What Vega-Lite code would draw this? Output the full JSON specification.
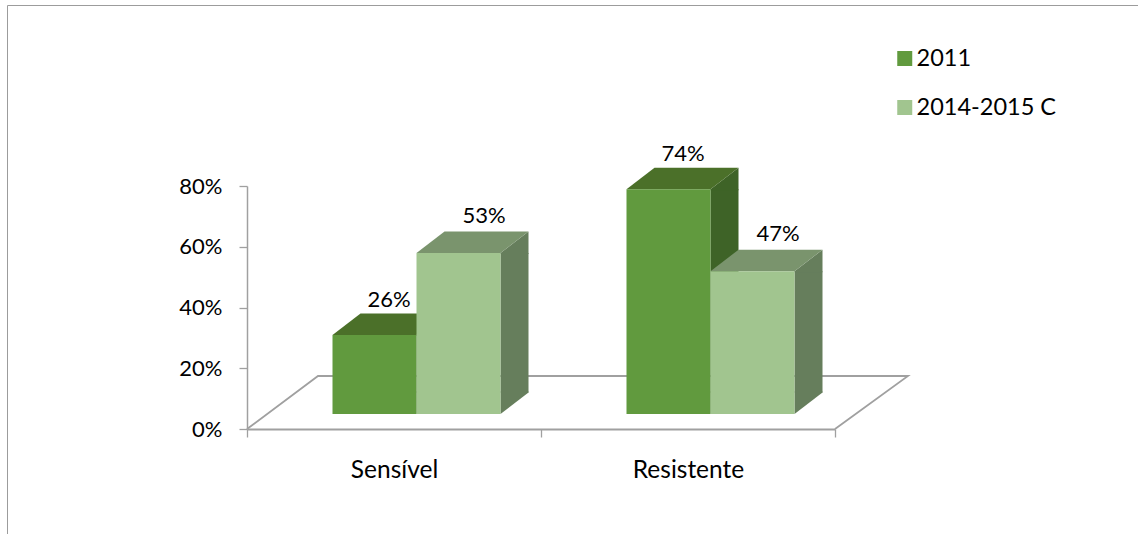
{
  "$schema": "https://vega.github.io/schema/vega-lite/v6.json",
  "width": 1131,
  "height": 529,
  "padding": {"left": 7, "top": 5, "right": 0, "bottom": 0},
  "autosize": "none",
  "background": "white",
  "view": {"stroke": "#9C9C9C", "strokeWidth": 1, "fill": null},
  "config": {"font": "Lato"},
  "data": {
    "values": [
      {"categoria": "Sensível", "serie": "2011", "valor": 0.26},
      {"categoria": "Sensível", "serie": "2014-2015 C", "valor": 0.53},
      {"categoria": "Resistente", "serie": "2011", "valor": 0.74},
      {"categoria": "Resistente", "serie": "2014-2015 C", "valor": 0.47}
    ]
  },
  "encoding": {
    "x": {
      "field": "categoria",
      "type": "nominal",
      "title": null,
      "scale": {"type": "band", "domain": ["Sensível", "Resistente"], "range": [240, 828], "paddingInner": 0, "paddingOuter": 0},
      "axis": {
        "orient": "bottom",
        "offset": -105,
        "labelAngle": 0,
        "labelFontSize": 24.5,
        "labelColor": "#000000",
        "labelPadding": 21,
        "tickBand": "extent",
        "tickSize": 8,
        "tickColor": "#A0A0A0",
        "tickWidth": 1.3,
        "domainColor": "#A0A0A0",
        "domainWidth": 2,
        "grid": false
      }
    },
    "y": {
      "field": "valor",
      "type": "quantitative",
      "title": null,
      "scale": {"domain": [0, 0.8], "range": [424, 181], "nice": false},
      "axis": {
        "orient": "left",
        "offset": -240,
        "values": [0, 0.2, 0.4, 0.6, 0.8],
        "format": ".0%",
        "labelFontSize": 22,
        "labelColor": "#000000",
        "labelPadding": 17,
        "tickSize": 8,
        "tickColor": "#A0A0A0",
        "tickWidth": 1.3,
        "domainColor": "#A0A0A0",
        "domainWidth": 1.5,
        "grid": false
      }
    }
  },
  "layer": [
    {
      "description": "Floor of the 3D plot",
      "data": {"values": [{"categoria": "Sensível", "valor": 0}]},
      "mark": {"type": "point", "shape": "M-147 0L-76 -53L514 -53L441 0", "size": 4, "filled": false, "opacity": 1, "stroke": "#A0A0A0", "strokeWidth": 1.8, "clip": false}
    },
    {
      "description": "First series: side, top and front faces",
      "transform": [{"filter": "datum.serie === '2011'"}],
      "layer": [
        {"mark": {"type": "bar", "width": 28, "xOffset": 36.5, "yOffset": -15, "y2Offset": -36.5, "color": "#3E6327"}, "encoding": {"y2": {"datum": 0}}},
        {"mark": {"type": "point", "shape": "M0 0L28 -21.5L28 1L0 1Z", "size": 4, "filled": true, "opacity": 1, "strokeWidth": 0, "xOffset": 22.5, "yOffset": -15, "color": "#3E6327"}},
        {"mark": {"type": "point", "shape": "M0 0L28 -21.5L28 -22.5L0 -22.5Z", "size": 4, "filled": true, "opacity": 1, "strokeWidth": 0, "xOffset": 22.5, "yOffset": -15, "color": "#3E6327"}, "encoding": {"y": {"datum": 0}}},
        {"mark": {"type": "point", "shape": "M0 0L28 -21.5L112 -21.5L84 0Z", "size": 4, "filled": true, "opacity": 1, "strokeWidth": 0, "xOffset": -61.5, "yOffset": -15, "color": "#4B7029"}},
        {
          "mark": {"type": "bar", "width": 84, "xOffset": -19.5, "yOffset": -15, "y2Offset": -15},
          "encoding": {
            "y2": {"datum": 0},
            "color": {
              "field": "serie",
              "type": "nominal",
              "scale": {"domain": ["2011", "2014-2015 C"], "range": ["#619A3E", "#A1C58F"]},
              "legend": {
                "orient": "none",
                "legendX": 886,
                "legendY": 41,
                "title": null,
                "symbolType": "square",
                "symbolSize": 225,
                "symbolStrokeWidth": 0,
                "labelFontSize": 23.5,
                "labelColor": "#000000",
                "labelOffset": 0,
                "rowPadding": 24,
                "clipHeight": 25
              }
            }
          }
        }
      ]
    },
    {
      "description": "Second series: side, top and front faces",
      "transform": [{"filter": "datum.serie === '2014-2015 C'"}],
      "layer": [
        {"mark": {"type": "bar", "width": 28, "xOffset": 120.5, "yOffset": -15, "y2Offset": -36.5, "color": "#667E5C"}, "encoding": {"y2": {"datum": 0}}},
        {"mark": {"type": "point", "shape": "M0 0L28 -21.5L28 1L0 1Z", "size": 4, "filled": true, "opacity": 1, "strokeWidth": 0, "xOffset": 106.5, "yOffset": -15, "color": "#667E5C"}},
        {"mark": {"type": "point", "shape": "M0 0L28 -21.5L28 -22.5L0 -22.5Z", "size": 4, "filled": true, "opacity": 1, "strokeWidth": 0, "xOffset": 106.5, "yOffset": -15, "color": "#667E5C"}, "encoding": {"y": {"datum": 0}}},
        {"mark": {"type": "point", "shape": "M0 0L28 -21.5L112 -21.5L84 0Z", "size": 4, "filled": true, "opacity": 1, "strokeWidth": 0, "xOffset": 22.5, "yOffset": -15, "color": "#7A946D"}},
        {
          "mark": {"type": "bar", "width": 84, "xOffset": 64.5, "yOffset": -15, "y2Offset": -15},
          "encoding": {
            "y2": {"datum": 0},
            "color": {"field": "serie", "type": "nominal"}
          }
        }
      ]
    },
    {
      "description": "Value labels over the first series",
      "transform": [{"filter": "datum.serie === '2011'"}],
      "mark": {"type": "text", "fontSize": 22, "color": "#000000", "baseline": "middle", "xOffset": -5, "yOffset": -50},
      "encoding": {"text": {"field": "valor", "type": "quantitative", "format": ".0%"}}
    },
    {
      "description": "Value labels over the second series",
      "transform": [{"filter": "datum.serie === '2014-2015 C'"}],
      "mark": {"type": "text", "fontSize": 22, "color": "#000000", "baseline": "middle", "xOffset": 90, "yOffset": -52},
      "encoding": {"text": {"field": "valor", "type": "quantitative", "format": ".0%"}}
    }
  ]
}
